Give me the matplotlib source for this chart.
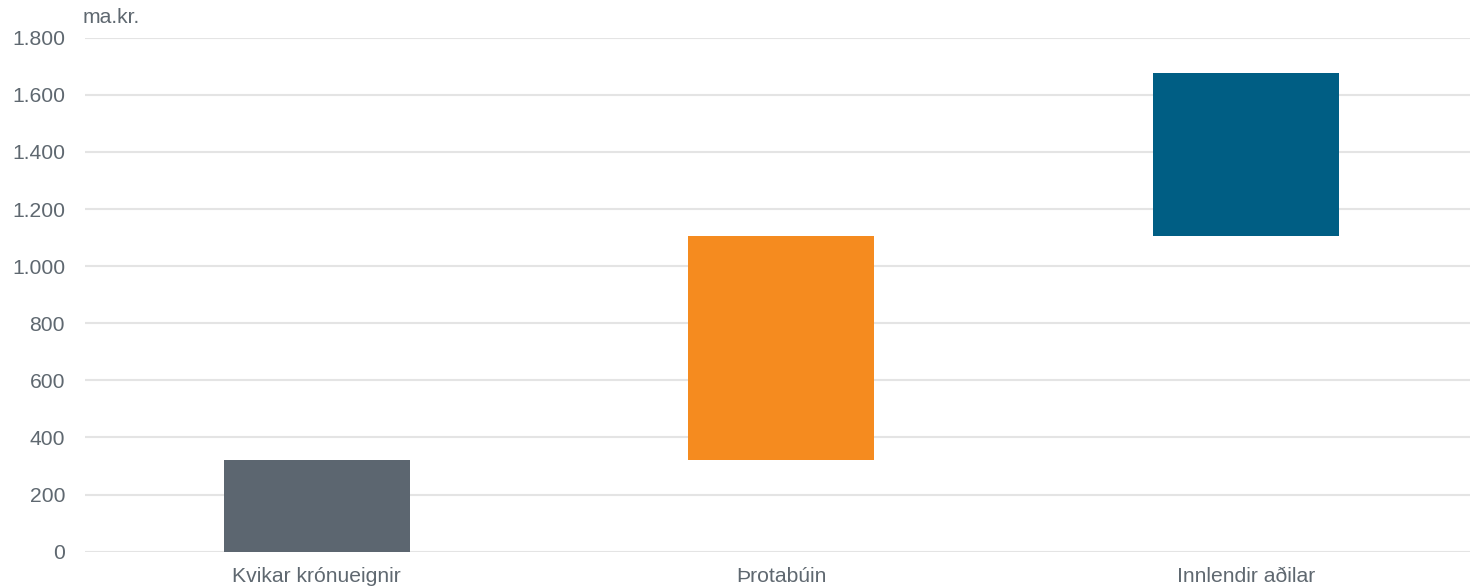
import matplotlib.pyplot as plt

plt.rcParams["font.family"] = ["Liberation Sans", "DejaVu Sans"]

categories = ["Kvikar krónueignir", "Þrotabúin", "Innlendir aðilar"]
increments = [320, 785, 570]
colors = ["#5c6670", "#f58b1f", "#005e84"]
yticks = [0, 200, 400, 600, 800, 1000, 1200, 1400, 1600, 1800]
ytick_labels = ["0", "200", "400", "600", "800", "1.000", "1.200", "1.400", "1.600", "1.800"]

text_color = "#5f6870"

# Waterfall bases: each bar starts where the previous one ended
bases = []
running = 0
for inc in increments:
    bases.append(running)
    running += inc

fig = plt.figure(figsize=(14.7, 5.88), dpi=100)
ax = fig.add_axes([84.5 / 1470, 0.0617, 1393.5 / 1470, 0.8742])

ax.bar(range(len(categories)), increments, bottom=bases, width=0.4, color=colors, zorder=3)

ax.set_ylim(0, 1800)
ax.set_xlim(-0.5, len(categories) - 0.5)
ax.set_yticks(yticks)
ax.set_yticklabels(ytick_labels)
ax.set_xticks(range(len(categories)))
ax.set_xticklabels(categories)
ax.yaxis.grid(True, color="#e4e4e4", linewidth=1.5, zorder=0)
ax.tick_params(axis="both", length=0, labelsize=15.2, colors=text_color)
ax.tick_params(axis="y", pad=14)
ax.tick_params(axis="x", pad=11)
for spine in ax.spines.values():
    spine.set_visible(False)

fig.text(83 / 1470, 1 - 23 / 588, "ma.kr.", fontsize=15.2, color=text_color, ha="left", va="baseline")

fig.savefig("out.png", dpi=100)
